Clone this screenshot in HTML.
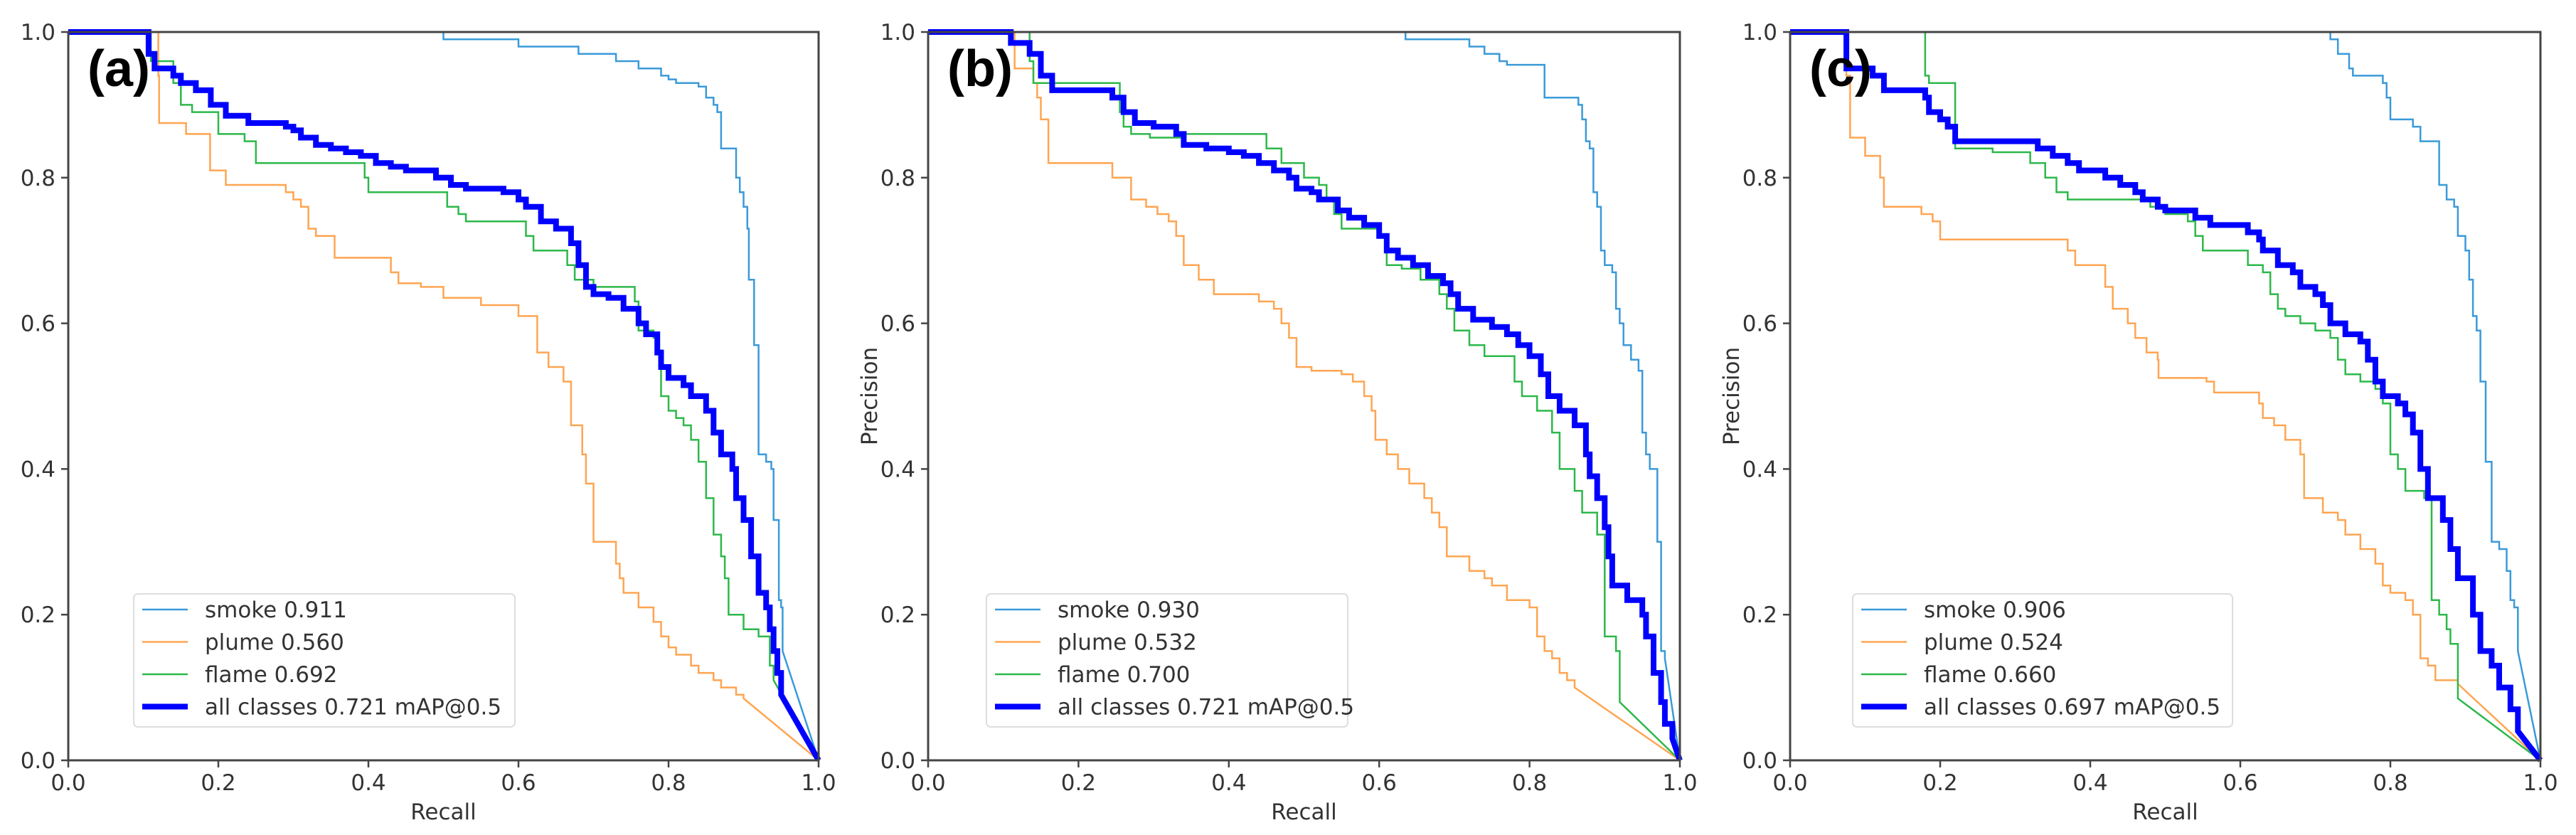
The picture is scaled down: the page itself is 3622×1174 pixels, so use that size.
<!DOCTYPE html>
<html><head><meta charset="utf-8"><style>
html,body{margin:0;padding:0;background:#fff;}
svg{display:block;}
text{font-family:"DejaVu Sans","Liberation Sans",sans-serif;fill:#333;}
</style></head><body>
<svg id="fig" width="3622" height="1174" viewBox="0 0 3622 1174" xmlns="http://www.w3.org/2000/svg"></svg>
<script>
// ---- data (recall, precision) : step points; last point joined by straight line ----
const ticks = [0, 0.2, 0.4, 0.6, 0.8, 1.0];
const tickLabels = ["0.0", "0.2", "0.4", "0.6", "0.8", "1.0"];
const panelLetters = ["(a)", "(b)", "(c)"];
const seriesNames = ["smoke", "plume", "flame", "all classes"];
const apA = ["0.911", "0.560", "0.692", "0.721"];
const apB = ["0.930", "0.532", "0.700", "0.721"];
const apC = ["0.906", "0.524", "0.660", "0.697"];

const aSmokeR = [0,0.5,0.6,0.68,0.73,0.76,0.79,0.80,0.81,0.84,0.85,0.86,0.865,0.87,0.89,0.895,0.90,0.905,0.907,0.914,0.92,0.93,0.937,0.94,0.947,0.95,0.952,1];
const aSmokeP = [1,0.99,0.98,0.97,0.96,0.95,0.94,0.935,0.93,0.925,0.91,0.90,0.89,0.84,0.80,0.78,0.76,0.73,0.66,0.57,0.42,0.41,0.40,0.33,0.22,0.21,0.15,0];
const aPlumeR = [0,0.12,0.121,0.157,0.189,0.21,0.29,0.30,0.31,0.32,0.33,0.355,0.43,0.44,0.47,0.50,0.55,0.60,0.625,0.64,0.66,0.67,0.685,0.69,0.70,0.73,0.735,0.74,0.76,0.78,0.79,0.80,0.81,0.83,0.84,0.86,0.87,0.89,0.90,1];
const aPlumeP = [1,0.94,0.875,0.86,0.81,0.79,0.78,0.77,0.76,0.73,0.72,0.69,0.67,0.655,0.65,0.635,0.625,0.61,0.56,0.54,0.52,0.46,0.42,0.38,0.30,0.27,0.25,0.23,0.21,0.19,0.17,0.155,0.145,0.13,0.12,0.11,0.10,0.09,0.085,0];
const aFlameR = [0,0.11,0.14,0.15,0.165,0.20,0.235,0.25,0.395,0.40,0.505,0.52,0.53,0.61,0.62,0.665,0.675,0.70,0.755,0.76,0.78,0.785,0.79,0.80,0.81,0.82,0.83,0.84,0.85,0.86,0.87,0.875,0.88,0.90,0.92,0.935,0.94,1];
const aFlameP = [1,0.96,0.93,0.90,0.89,0.86,0.85,0.82,0.80,0.78,0.76,0.75,0.74,0.72,0.70,0.68,0.66,0.65,0.63,0.59,0.58,0.56,0.50,0.48,0.47,0.46,0.44,0.41,0.36,0.31,0.28,0.25,0.20,0.18,0.17,0.13,0.11,0];
const aAllR = [0,0.107,0.115,0.14,0.15,0.17,0.19,0.21,0.24,0.29,0.30,0.31,0.33,0.35,0.37,0.39,0.41,0.43,0.45,0.49,0.51,0.53,0.58,0.60,0.61,0.63,0.65,0.67,0.68,0.69,0.70,0.72,0.74,0.76,0.77,0.785,0.79,0.80,0.82,0.83,0.85,0.86,0.87,0.885,0.89,0.90,0.91,0.92,0.93,0.935,0.94,0.945,0.95,1];
const aAllP = [1,0.97,0.95,0.94,0.93,0.92,0.90,0.885,0.875,0.87,0.865,0.855,0.845,0.84,0.835,0.83,0.82,0.815,0.81,0.80,0.79,0.785,0.78,0.77,0.76,0.74,0.73,0.71,0.68,0.65,0.64,0.635,0.62,0.60,0.585,0.56,0.54,0.525,0.515,0.50,0.48,0.45,0.42,0.40,0.36,0.33,0.28,0.23,0.21,0.18,0.15,0.12,0.09,0];

const bSmokeR = [0,0.635,0.72,0.74,0.76,0.77,0.78,0.82,0.865,0.87,0.875,0.88,0.885,0.89,0.895,0.90,0.91,0.915,0.92,0.925,0.935,0.945,0.95,0.955,0.96,0.97,0.975,0.98,1];
const bSmokeP = [1,0.99,0.98,0.97,0.96,0.955,0.955,0.91,0.90,0.88,0.85,0.84,0.78,0.76,0.70,0.68,0.67,0.62,0.60,0.57,0.55,0.535,0.45,0.42,0.40,0.30,0.15,0.14,0];
const bPlumeR = [0,0.115,0.14,0.145,0.15,0.16,0.165,0.245,0.27,0.29,0.305,0.32,0.33,0.34,0.36,0.38,0.44,0.46,0.47,0.48,0.49,0.51,0.55,0.565,0.58,0.59,0.595,0.61,0.625,0.64,0.66,0.67,0.68,0.69,0.72,0.74,0.75,0.77,0.80,0.81,0.82,0.83,0.84,0.85,0.86,1];
const bPlumeP = [1,0.95,0.93,0.91,0.88,0.82,0.82,0.80,0.77,0.76,0.75,0.74,0.72,0.68,0.66,0.64,0.63,0.62,0.60,0.58,0.54,0.535,0.53,0.52,0.50,0.48,0.44,0.42,0.40,0.38,0.36,0.34,0.32,0.28,0.26,0.25,0.24,0.22,0.21,0.17,0.15,0.14,0.12,0.11,0.10,0];
const bFlameR = [0,0.135,0.14,0.15,0.255,0.26,0.27,0.295,0.34,0.45,0.47,0.5,0.52,0.53,0.54,0.55,0.6,0.61,0.63,0.655,0.68,0.69,0.70,0.72,0.74,0.78,0.79,0.81,0.83,0.84,0.86,0.87,0.89,0.90,0.915,0.92,1];
const bFlameP = [1,0.96,0.93,0.93,0.89,0.87,0.86,0.855,0.86,0.84,0.82,0.80,0.79,0.77,0.75,0.73,0.72,0.68,0.675,0.66,0.64,0.62,0.59,0.57,0.555,0.52,0.50,0.48,0.45,0.40,0.37,0.34,0.31,0.17,0.15,0.08,0];
const bAllR = [0,0.11,0.135,0.15,0.165,0.245,0.26,0.275,0.30,0.33,0.34,0.37,0.40,0.42,0.44,0.46,0.48,0.49,0.51,0.52,0.545,0.56,0.58,0.60,0.61,0.625,0.645,0.665,0.685,0.695,0.705,0.725,0.75,0.77,0.785,0.80,0.815,0.825,0.84,0.86,0.875,0.88,0.89,0.90,0.905,0.91,0.93,0.95,0.955,0.965,0.975,0.98,0.99,1];
const bAllP = [1,0.985,0.97,0.94,0.92,0.91,0.89,0.875,0.87,0.86,0.845,0.84,0.835,0.83,0.82,0.81,0.80,0.785,0.78,0.77,0.755,0.745,0.735,0.72,0.70,0.69,0.68,0.665,0.655,0.64,0.62,0.605,0.595,0.585,0.57,0.555,0.53,0.50,0.48,0.46,0.42,0.39,0.36,0.32,0.28,0.24,0.22,0.20,0.17,0.12,0.08,0.05,0.03,0];

const cSmokeR = [0,0.72,0.73,0.745,0.75,0.765,0.79,0.795,0.80,0.83,0.84,0.865,0.875,0.885,0.89,0.90,0.905,0.91,0.915,0.92,0.927,0.935,0.945,0.955,0.96,0.965,0.97,1];
const cSmokeP = [1,0.99,0.97,0.95,0.94,0.94,0.93,0.91,0.88,0.87,0.85,0.79,0.77,0.76,0.72,0.70,0.66,0.61,0.59,0.52,0.41,0.30,0.29,0.26,0.22,0.21,0.15,0];
const cPlumeR = [0,0.075,0.08,0.10,0.12,0.125,0.175,0.19,0.20,0.37,0.38,0.42,0.43,0.45,0.46,0.475,0.49,0.491,0.555,0.565,0.625,0.63,0.645,0.66,0.68,0.685,0.71,0.73,0.74,0.76,0.78,0.79,0.80,0.82,0.83,0.84,0.85,0.86,0.89,1];
const cPlumeP = [1,0.94,0.855,0.83,0.80,0.76,0.75,0.74,0.715,0.70,0.68,0.65,0.62,0.60,0.58,0.56,0.55,0.525,0.52,0.505,0.49,0.47,0.46,0.44,0.42,0.36,0.34,0.33,0.31,0.29,0.27,0.24,0.23,0.22,0.20,0.14,0.13,0.11,0.105,0];
const cFlameR = [0,0.18,0.185,0.19,0.22,0.27,0.32,0.34,0.355,0.37,0.48,0.50,0.53,0.54,0.55,0.61,0.63,0.64,0.65,0.66,0.68,0.70,0.72,0.73,0.74,0.76,0.78,0.79,0.80,0.81,0.82,0.845,0.855,0.865,0.875,0.88,0.89,1];
const cFlameP = [1,0.94,0.93,0.93,0.84,0.835,0.82,0.80,0.78,0.77,0.76,0.75,0.74,0.72,0.70,0.68,0.67,0.64,0.62,0.61,0.60,0.59,0.58,0.55,0.53,0.52,0.51,0.49,0.42,0.40,0.37,0.36,0.22,0.20,0.18,0.16,0.085,0];
const cAllR = [0,0.075,0.11,0.125,0.18,0.185,0.20,0.21,0.22,0.33,0.35,0.37,0.385,0.42,0.44,0.46,0.47,0.49,0.50,0.54,0.56,0.61,0.625,0.63,0.65,0.67,0.68,0.70,0.71,0.72,0.74,0.76,0.77,0.78,0.79,0.81,0.82,0.83,0.84,0.85,0.87,0.88,0.89,0.91,0.92,0.935,0.945,0.96,0.97,1];
const cAllP = [1,0.95,0.94,0.92,0.91,0.89,0.88,0.87,0.85,0.84,0.83,0.82,0.81,0.80,0.79,0.78,0.77,0.76,0.755,0.745,0.735,0.725,0.715,0.70,0.68,0.67,0.65,0.64,0.625,0.60,0.585,0.575,0.55,0.52,0.50,0.49,0.475,0.45,0.40,0.36,0.33,0.29,0.25,0.20,0.15,0.13,0.10,0.07,0.04,0];

const colors = ["#3a9ad9", "#ffa552", "#2db84a", "#0000ff"];
const widths = [2.5, 2.5, 2.5, 8];

const panels = [
  {left:96, right:1151, letter:0, ap:apA, legX:188, legW:536, ylab:false,
   r:[aSmokeR,aPlumeR,aFlameR,aAllR], p:[aSmokeP,aPlumeP,aFlameP,aAllP]},
  {left:1305, right:2362, letter:1, ap:apB, legX:1387, legW:508, ylab:true,
   r:[bSmokeR,bPlumeR,bFlameR,bAllR], p:[bSmokeP,bPlumeP,bFlameP,bAllP]},
  {left:2517, right:3572, letter:2, ap:apC, legX:2605, legW:534, ylab:true,
   r:[cSmokeR,cPlumeR,cFlameR,cAllR], p:[cSmokeP,cPlumeP,cFlameP,cAllP]}
];
const TOP = 45, BOT = 1069;
const NS = "http://www.w3.org/2000/svg";
const svg = document.getElementById("fig");
function mk(tag, attrs, parent, txt){
  const e = document.createElementNS(NS, tag);
  for (const k in attrs) e.setAttribute(k, attrs[k]);
  if (txt !== undefined) e.textContent = txt;
  (parent||svg).appendChild(e);
  return e;
}
panels.forEach((pn, pi) => {
  const g = mk("g", {});
  
  
  const xs = v => pn.left + v * (pn.right - pn.left);
  const ys = v => BOT - v * (BOT - TOP);
  // series
  for (let s = 3; s >= 0; s--) { }
  [0,1,2,3].forEach(s => {
    const R = pn.r[s], P = pn.p[s];
    let d = "M" + xs(R[0]).toFixed(1) + "," + ys(P[0]).toFixed(1);
    for (let i = 1; i < R.length; i++) {
      if (i === R.length - 1) d += " L" + xs(R[i]).toFixed(1) + "," + ys(P[i]).toFixed(1);
      else d += " H" + xs(R[i]).toFixed(1) + " V" + ys(P[i]).toFixed(1);
    }
    const path = mk("path", {d:d, fill:"none", stroke:colors[s], "stroke-width":widths[s], "stroke-linejoin":"miter"}, g);
    
    
  });
  // frame
  const fr = mk("rect", {x:pn.left, y:TOP, width:pn.right-pn.left, height:BOT-TOP, fill:"none", stroke:"#444", "stroke-width":3}, g);
  
  
  // ticks
  ticks.forEach((t, i) => {
    mk("line", {x1:xs(t), x2:xs(t), y1:BOT, y2:BOT+10, stroke:"#444", "stroke-width":2.5}, g);
    mk("line", {x1:pn.left-10, x2:pn.left, y1:ys(t), y2:ys(t), stroke:"#444", "stroke-width":2.5}, g);
    const xl = mk("text", {x:xs(t), y:1111, "font-size":31, "text-anchor":"middle"}, g, tickLabels[i]);
    
    
    const yl = mk("text", {x:pn.left-18, y:ys(t)+11, "font-size":31, "text-anchor":"end"}, g, tickLabels[i]);
    
    
  });
  const xt = mk("text", {x:(pn.left+pn.right)/2, y:1152, "font-size":31, "text-anchor":"middle"}, g, "Recall");
  
  
  if (pn.ylab) {
    const cx = pn.left - 83, cy = (TOP+BOT)/2;
    const yt = mk("text", {x:cx, y:cy, "font-size":31, "text-anchor":"middle", transform:"rotate(-90 "+cx+" "+cy+") translate(0 11)"}, g, "Precision");
    
    
  }
  const lt = mk("text", {x:pn.left+27, y:121, "font-size":72, "font-weight":"bold", style:"font-family:'Liberation Sans',sans-serif;fill:#000"}, g, panelLetters[pn.letter]);
  
  
  // legend
  const lg = mk("g", {}, g);
  
  
  mk("rect", {x:pn.legX, y:835, width:pn.legW, height:187, rx:6, fill:"#fff", "fill-opacity":0.8, stroke:"#ddd", "stroke-width":2}, lg);
  [0,1,2,3].forEach(s => {
    const yy = 857 + s*45.5;
    const e = mk("g", {}, lg);
    
    
    mk("line", {x1:pn.legX+12, x2:pn.legX+76, y1:yy, y2:yy, stroke:colors[s], "stroke-width":widths[s]}, e);
    const label = seriesNames[s] + " " + pn.ap[s] + (s === 3 ? " mAP@0.5" : "");
    mk("text", {x:pn.legX+100, y:yy+11, "font-size":31}, e, label);
  });
});
</script>
</body></html>
